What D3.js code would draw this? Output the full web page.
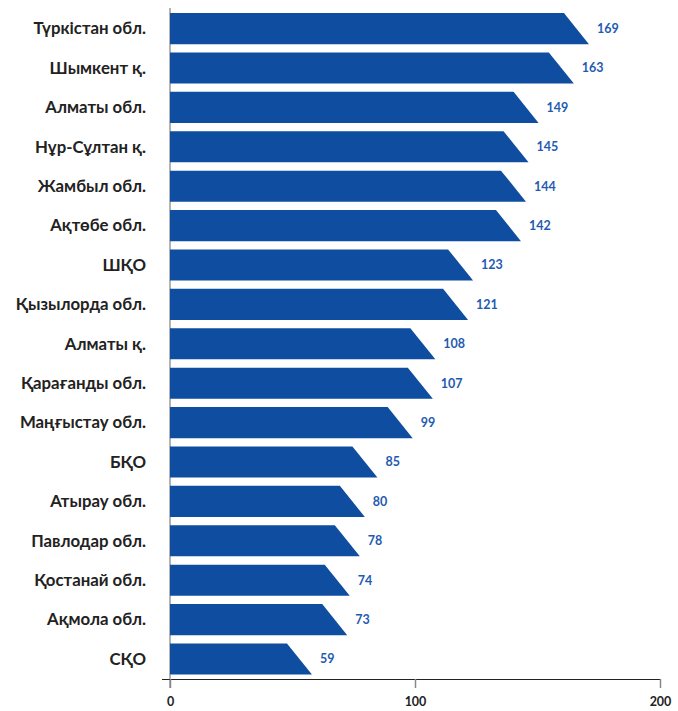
<!DOCTYPE html>
<html><head><meta charset="utf-8">
<script src="https://cdn.jsdelivr.net/npm/d3@7"></script>
<style>body{margin:0;background:#fff}svg{display:block}</style>
</head><body>
<script>
const categories = ["Түркістан обл.","Шымкент қ.","Алматы обл.","Нұр-Сұлтан қ.","Жамбыл обл.","Ақтөбе обл.","ШҚО","Қызылорда обл.","Алматы қ.","Қарағанды обл.","Маңғыстау обл.","БҚО","Атырау обл.","Павлодар обл.","Қостанай обл.","Ақмола обл.","СҚО"];
const values = [169,163,149,145,144,142,123,121,108,107,99,85,80,78,74,73,59];
const tickValues = [0,100,200];

const W = 678, H = 711;
const svg = d3.select("body").append("svg").attr("width", W).attr("height", H);
const x = d3.scaleLinear().domain([0,200]).range([170,660]);
// bar tips in the reference follow a slightly different mapping than the axis
const xBar = d3.scaleLinear().domain([0,200]).range([163.4,667]);
const y = d3.scaleBand().domain(categories).range([8.9,678.7]).paddingInner(0.21).paddingOuter(0.105);
const slant = 25;

svg.append("line").attr("x1",x(0)).attr("x2",x(0)).attr("y1",8).attr("y2",688)
  .attr("stroke","#9a9a9a").attr("stroke-width",1.5);

const data = categories.map((c,i)=>({c, v: values[i]}));
svg.selectAll("path.bar").data(data).join("path").attr("class","bar")
  .attr("fill","#0e4d9f")
  .attr("d", d => {
    const t = y(d.c), b = t + y.bandwidth(), x0 = x(0), xe = xBar(d.v);
    return `M${x0},${t}L${xe-slant},${t}L${xe},${b}L${x0},${b}Z`;
  });

svg.selectAll("text.val").data(data).join("text").attr("class","val")
  .attr("x", d => xBar(d.v) + 8).attr("y", d => y(d.c) + y.bandwidth()/2)
  .attr("dy","0.35em").attr("fill","#1f5bb0")
  .attr("font-family","Lato, 'Open Sans', sans-serif").attr("font-weight","bold").attr("font-size",12.5)
  .text(d => d.v);

svg.selectAll("text.cat").data(data).join("text").attr("class","cat")
  .attr("x", 146).attr("y", d => y(d.c) + y.bandwidth()/2)
  .attr("dy","0.35em").attr("text-anchor","end").attr("fill","#222")
  .attr("font-family","Lato, 'Open Sans', sans-serif").attr("font-weight","bold").attr("font-size",16.8)
  .text(d => d.c);

const axis = svg.append("g").attr("transform","translate(0,679)")
  .call(d3.axisBottom(x).tickValues(tickValues).tickSize(9).tickPadding(9));
axis.select(".domain").attr("d","M162,0.5H660").attr("stroke","#222").attr("stroke-width",1.2);
axis.selectAll(".tick line").attr("stroke","#888").attr("stroke-width",1.5);
axis.selectAll(".tick text").attr("font-family","Lato, 'Open Sans', sans-serif").attr("font-weight","bold")
  .attr("font-size",12.5).attr("fill","#222");
</script>
</body></html>
